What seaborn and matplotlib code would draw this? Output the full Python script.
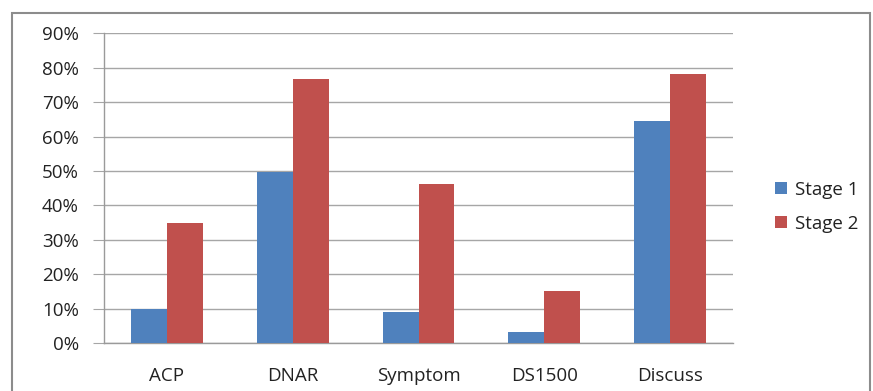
import pandas as pd
import numpy as np
import matplotlib
matplotlib.use('Agg')
import matplotlib.pyplot as plt
import seaborn as sns
from matplotlib.patches import Rectangle
from matplotlib.ticker import PercentFormatter

# values (fractions)
categories = ['ACP', 'DNAR', 'Symptom', 'DS1500', 'Discuss']
stage1 = [0.098, 0.498, 0.091, 0.033, 0.645]
stage2 = [0.348, 0.767, 0.462, 0.151, 0.783]
series = ['Stage 1', 'Stage 2']
colors = ['#4F81BD', '#C0504D']

df = pd.DataFrame({
    'Category': categories * 2
    , 'Value': stage1 + stage2
    , 'Stage': [series[0]] * len(categories) + [series[1]] * len(categories)
})

sns.set_style('white')
plt.rcParams['font.family'] = ['Open Sans', 'DejaVu Sans']

fig = plt.figure(figsize=(8.73, 3.91), dpi=100)
ax = fig.add_axes([104/873, 1 - 343/391, (733-104)/873, (343-33.3)/391])

sns.barplot(data=df, x='Category', y='Value', hue='Stage', palette=colors,
            width=0.57, gap=0, saturation=1, linewidth=0, ax=ax, zorder=3)

ax.set_ylim(0, 0.9)
ax.set_xlim(-0.5, len(categories) - 0.5)
ax.set_yticks(np.arange(0, 0.91, 0.1))
ax.yaxis.set_major_formatter(PercentFormatter(1.0, decimals=0))
ax.grid(axis='y', color='#a6a6a6', linewidth=1.0, zorder=0)
ax.set_axisbelow(True)

for s in ['top', 'right']:
    ax.spines[s].set_visible(False)
for s in ['left', 'bottom']:
    ax.spines[s].set_color('#9a9a9a')
    ax.spines[s].set_linewidth(1.0)

ax.set_xticks(np.arange(-0.5, len(categories), 1.0), minor=True)
ax.tick_params(axis='x', which='major', length=0, pad=17, labelsize=13.5, labelcolor='#222222')
ax.tick_params(axis='x', which='minor', length=5, color='#9a9a9a', direction='out')
ax.tick_params(axis='y', length=8, color='#a6a6a6', pad=10, labelsize=13.5, labelcolor='#222222',
               left=True)
ax.set_xlabel('')
ax.set_ylabel('')

leg = ax.legend(loc='center left', bbox_to_anchor=(1.04, 0.44), frameon=False,
                fontsize=13.5, handlelength=0.65, handleheight=0.65, handletextpad=0.4,
                labelspacing=0.85)
for t in leg.get_texts():
    t.set_color('#222222')

fig.patches.append(Rectangle((12/873, -0.02), (870-12)/873, 1 - 13/391 + 0.02,
                             transform=fig.transFigure, fill=False,
                             edgecolor='#8c8c8c', linewidth=1.5))

plt.savefig('out.png', dpi=100)
